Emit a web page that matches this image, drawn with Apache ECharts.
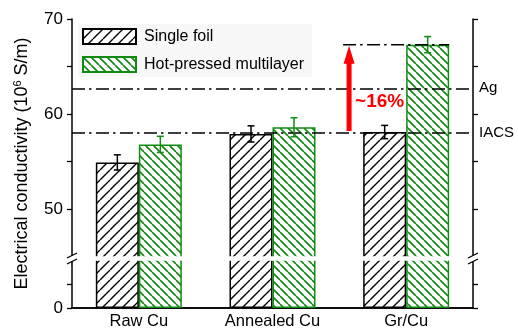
<!DOCTYPE html>
<html>
<head>
<meta charset="utf-8">
<script src="https://cdn.jsdelivr.net/npm/echarts@6/dist/echarts.min.js"></script>
<style>
  html, body { margin: 0; padding: 0; background: #fff; }
  #chart { width: 518px; height: 330px; }
</style>
</head>
<body>
<div id="chart"></div>
<script>
// Conductivity data (10^6 S/m)
const categories = ['Raw Cu', 'Annealed Cu', 'Gr/Cu'];
const singleFoil = [54.9, 57.9, 58.1];
const singleFoilErr = [0.8, 0.85, 0.7];
const multilayer = [56.8, 58.6, 67.3];
const multilayerErr = [0.85, 1.0, 0.85];
const iacsLevel = 58.0;
const agLevel = 62.7;
const yTickValues = [0, 50, 60, 70];
const yMinorValues = [2.5, 55, 65];
const gainLabel = '~16%';

const FONT = '"Liberation Sans", Arial, Helvetica, sans-serif';
const BAR_W = 43;
const GREEN = '#118a11';
const AXIS_BREAK = { start: 5, end: 45, gap: '1.4%' };

// Diagonal hatch tile: dir > 0 draws "/", dir < 0 draws "\"
function hatch(color, step, dir, lw) {
  const c = document.createElement('canvas');
  c.width = step; c.height = step;
  const g = c.getContext('2d');
  g.fillStyle = '#fff';
  g.fillRect(0, 0, step, step);
  g.strokeStyle = color;
  g.lineWidth = lw;
  g.beginPath();
  for (let k = -1; k <= 1; k++) {
    if (dir > 0) { g.moveTo(k * step, step); g.lineTo(k * step + step, 0); }
    else { g.moveTo(k * step, 0); g.lineTo(k * step + step, step); }
  }
  g.stroke();
  return c;
}

function errorBars(name, vals, errs, side, color) {
  return {
    type: 'custom',
    name: name + ' err',
    z: 5,
    silent: true,
    data: vals.map((v, i) => [i, v - errs[i], v + errs[i]]),
    renderItem(params, api) {
      const lo = api.coord([api.value(0), api.value(1)]);
      const hi = api.coord([api.value(0), api.value(2)]);
      const x = lo[0] + side * BAR_W / 2;
      const cap = 3.5;
      const st = { stroke: color, lineWidth: 1.5 };
      return {
        type: 'group',
        children: [
          { type: 'line', shape: { x1: x, y1: lo[1], x2: x, y2: hi[1] }, style: st },
          { type: 'line', shape: { x1: x - cap, y1: hi[1], x2: x + cap, y2: hi[1] }, style: st },
          { type: 'line', shape: { x1: x - cap, y1: lo[1], x2: x + cap, y2: lo[1] }, style: st }
        ]
      };
    }
  };
}

const tickStyle = { lineStyle: { color: '#000', width: 1.3 }, length: 5 };
const dashDot = [13, 4, 2.5, 4.5];

const chart = echarts.init(document.getElementById('chart'), null, { renderer: 'canvas' });

chart.setOption({
  animation: false,
  backgroundColor: '#fff',
  textStyle: { fontFamily: FONT },
  grid: { left: 72, right: 45, top: 19, bottom: 19, containLabel: false },
  legend: {
    orient: 'vertical',
    left: 78, top: 24,
    padding: [4, 8, 4, 4],
    backgroundColor: '#f7f7f7',
    itemWidth: 53, itemHeight: 15, itemGap: 11,
    icon: 'rect',
    textStyle: { fontSize: 16, color: '#000', fontFamily: FONT, padding: [0, 0, 0, 3] },
    data: ['Single foil', 'Hot-pressed multilayer']
  },
  xAxis: [{
    type: 'category',
    data: categories,
    axisLine: { lineStyle: { color: '#000', width: 1.5 } },
    axisTick: { show: false },
    axisLabel: { color: '#000', fontSize: 16.5, margin: 5, fontFamily: FONT },
    splitLine: { show: false }
  }, {
    type: 'category',
    position: 'top',
    data: categories,
    axisLine: { lineStyle: { color: '#000', width: 1.5 } },
    axisTick: { show: false },
    axisLabel: { show: false }
  }],
  yAxis: [{
    type: 'value',
    min: 0, max: 70,
    breaks: [AXIS_BREAK],
    breakArea: {
      show: true,
      itemStyle: { color: '#fff', borderWidth: 0, opacity: 1 },
      zigzagAmplitude: 0,
      zigzagZ: 100,
      expandOnClick: false
    },
    name: 'Electrical conductivity (10{sup|6} S/m)',
    nameLocation: 'middle',
    nameGap: 40,
    nameTextStyle: {
      color: '#000', fontSize: 18, fontFamily: FONT,
      rich: { sup: { fontSize: 11, fontFamily: FONT, color: '#000', padding: [0, 0, 9, 0] } }
    },
    axisLine: { show: true, lineStyle: { color: '#000', width: 1.5 } },
    axisTick: Object.assign({ show: true, inside: false, customValues: yTickValues.concat(yMinorValues) }, tickStyle),
    axisLabel: { color: '#000', fontSize: 17, margin: 9, fontFamily: FONT, customValues: yTickValues },
    splitLine: { show: false }
  }, {
    type: 'value',
    position: 'right',
    min: 0, max: 70,
    breaks: [AXIS_BREAK],
    breakArea: {
      show: true,
      itemStyle: { color: '#fff', borderWidth: 0, opacity: 1 },
      zigzagAmplitude: 0,
      zigzagZ: 100,
      expandOnClick: false
    },
    axisLine: { show: true, lineStyle: { color: '#000', width: 1.5 } },
    axisTick: Object.assign({ show: true, inside: false, customValues: yTickValues.concat(yMinorValues) }, tickStyle),
    axisLabel: { show: false },
    splitLine: { show: false }
  }],
  series: [{
    name: 'Single foil',
    type: 'bar',
    barWidth: BAR_W,
    barGap: '0%',
    data: singleFoil,
    itemStyle: {
      color: { image: hatch('#000', 10, 1, 1.4), repeat: 'repeat' },
      borderColor: '#000', borderWidth: 1.5
    },
    markLine: {
      silent: true,
      symbol: 'none',
      lineStyle: { color: '#000', width: 1.5, type: dashDot },
      label: { position: 'end', color: '#000', fontSize: 15, fontFamily: FONT, distance: 6 },
      data: [
        { yAxis: iacsLevel, label: { formatter: 'IACS' } },
        { yAxis: agLevel, label: { formatter: 'Ag' } }
      ]
    }
  }, {
    name: 'Hot-pressed multilayer',
    type: 'bar',
    barWidth: BAR_W,
    barGap: '0%',
    data: multilayer,
    itemStyle: {
      color: { image: hatch(GREEN, 8, -1, 1.6), repeat: 'repeat' },
      borderColor: GREEN, borderWidth: 1.5
    }
  },
  errorBars('Single foil', singleFoil, singleFoilErr, -1, '#000'),
  errorBars('Hot-pressed multilayer', multilayer, multilayerErr, 1, GREEN),
  {
    // Gain annotation: red arrow from IACS up to the Gr/Cu multilayer level
    type: 'custom',
    name: 'gain',
    z: 6,
    silent: true,
    data: [[iacsLevel, multilayer[2]]],
    renderItem(params, api) {
      const base = api.value(0), top = api.value(1);
      const a = api.coord([1, base]);
      const b = api.coord([2, base]);
      const band = b[0] - a[0];
      const x = a[0] + band * 0.573;
      const yBase = a[1] - 2;
      const yTop = api.coord([2, top])[1];
      const xEnd = b[0] + BAR_W;
      const mid = api.coord([2, 61.25])[1];
      return {
        type: 'group',
        children: [
          { type: 'line', shape: { x1: x - 6, y1: yTop, x2: xEnd, y2: yTop },
            style: { stroke: '#000', lineWidth: 1.5, lineDash: dashDot } },
          { type: 'polygon', shape: { points: [
              [x, yTop + 1], [x + 5.5, yTop + 19], [x + 2.5, yTop + 19], [x + 2.5, yBase],
              [x - 2.5, yBase], [x - 2.5, yTop + 19], [x - 5.5, yTop + 19] ] },
            style: { fill: '#ff0000' } },
          { type: 'text', style: { x: x + 6, y: mid, text: gainLabel, fill: '#ff0000',
              font: 'bold 19px ' + FONT, textAlign: 'left', textVerticalAlign: 'middle' } }
        ]
      };
    }
  }]
});

// Break marks on both vertical axes
function drawBreakMarks() {
  const y1 = chart.convertToPixel({ yAxisIndex: 0 }, AXIS_BREAK.start);
  const y2 = chart.convertToPixel({ yAxisIndex: 0 }, AXIS_BREAK.end);
  const ym = (y1 + y2) / 2;
  const grid = chart.getModel().getComponent('grid').coordinateSystem.getRect();
  const marks = [];
  [grid.x, grid.x + grid.width].forEach(x => {
    marks.push({ type: 'rect', shape: { x: x - 2, y: ym - 3, width: 4, height: 6 }, style: { fill: '#fff' }, z: 200 });
    [-3, 3].forEach(d => {
      marks.push({ type: 'line', shape: { x1: x - 5, y1: ym + d + 2.5, x2: x + 5, y2: ym + d - 2.5 },
        style: { stroke: '#000', lineWidth: 1.3 }, z: 201 });
    });
  });
  chart.setOption({ graphic: marks });
}
drawBreakMarks();
</script>
</body>
</html>
